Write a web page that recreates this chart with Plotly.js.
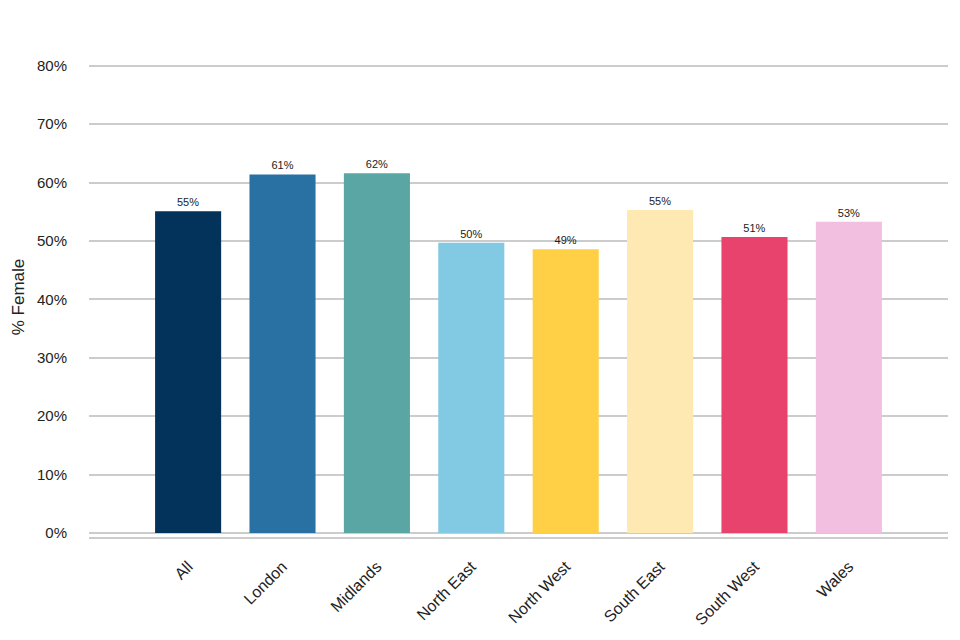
<!DOCTYPE html>
<html>
<head>
<meta charset="utf-8">
<script src="https://cdn.plot.ly/plotly-3.0.1.min.js"></script>
<style>
  html, body { margin: 0; padding: 0; background: #fff; }
  #myGraph { width: 960px; height: 640px; }
</style>
</head>
<body>
<div id="myGraph"></div>
<script>
let myGraph = document.getElementById('myGraph');

// regions and share of female staff (%)
let regions = ["All", "London", "Midlands", "North East", "North West", "South East", "South West", "Wales"];
let pctFemale = [55.1, 61.4, 61.6, 49.7, 48.6, 55.3, 50.7, 53.3];
let barColors = ["#03325a", "#2a71a3", "#5aa6a5", "#82c9e3", "#ffd045", "#fde9b1", "#e8436d", "#f3bfe0"];
let yTicks = [0, 10, 20, 30, 40, 50, 60, 70, 80];

let trace1 = {
  type: "bar",
  x: regions,
  y: pctFemale,
  marker: { color: barColors },
  width: 0.7,
  texttemplate: "%{y:.0f}%",
  textposition: "outside",
  cliponaxis: false,
  textfont: { size: 11, color: "#222222" },
  hoverinfo: "x+y",
};

let layout = {
  width: 960,
  height: 640,
  margin: { l: 89, r: 12, t: 57, b: 103 },
  paper_bgcolor: "#ffffff",
  plot_bgcolor: "#ffffff",
  font: { family: "Liberation Sans, Arial, sans-serif", color: "#222222" },
  showlegend: false,
  bargap: 0.3,
  xaxis: {
    range: [-1.05, 8.05],
    tickangle: -45,
    tickfont: { size: 16, color: "#222222" },
    showgrid: false,
    showline: true,
    linecolor: "#cccccc",
    linewidth: 2,
    ticks: "outside",
    ticklen: 12,
    tickcolor: "rgba(0,0,0,0)",
  },
  yaxis: {
    range: [-0.68, 81.5],
    tickvals: yTicks,
    ticktext: yTicks.map(v => v + "%"),
    tickfont: { size: 15, color: "#222222" },
    showgrid: true,
    gridcolor: "#cccccc",
    gridwidth: 2,
    zeroline: false,
    showline: false,
    ticks: "outside",
    ticklen: 18,
    tickcolor: "rgba(0,0,0,0)",
    title: {
      text: "% Female",
      font: { size: 17, color: "#222222" },
      standoff: 8,
    },
  },
};

Plotly.newPlot(myGraph, [trace1], layout, { displayModeBar: false });
</script>
</body>
</html>
